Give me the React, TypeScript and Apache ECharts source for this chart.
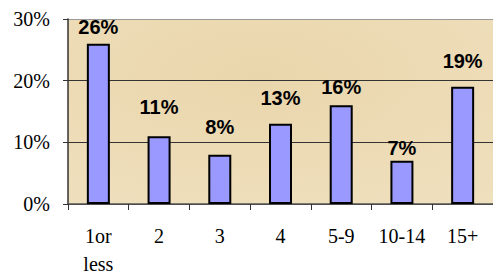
import React, { useEffect, useRef } from "react";
import * as echarts from "echarts";

const categories = ["1or\nless", "2", "3", "4", "5-9", "10-14", "15+"];
const values = [26, 11, 8, 13, 16, 7, 19];
const yTicks = [0, 10, 20, 30];
const labelGaps = [7, 19, 18, 16, 8, 3, 16];

export default function App() {
  const ref = useRef<HTMLDivElement>(null);
  useEffect(() => {
    if (!ref.current) return;
    const chart = echarts.init(ref.current, null, { renderer: "svg" });
    chart.setOption({
      animation: false,
      backgroundColor: "#ffffff",
      grid: {
        left: 68,
        top: 19,
        width: 429,
        height: 187,
        show: true,
        backgroundColor: {
          type: "radial",
          x: 0.45,
          y: 0.3,
          r: 0.9,
          colorStops: [
            { offset: 0, color: "#EAD6AC" },
            { offset: 1, color: "#EFE0BE" },
          ],
        },
        borderWidth: 0,
      },
      xAxis: {
        type: "category",
        data: categories,
        boundaryGap: true,
        axisLine: { show: true, lineStyle: { color: "#555555", width: 1.5 } },
        axisTick: { show: true, length: 6, lineStyle: { color: "#333333" } },
        axisLabel: {
          color: "#000000",
          fontFamily: "Liberation Serif",
          fontSize: 20,
          lineHeight: 28,
          margin: 18,
          interval: 0,
        },
      },
      yAxis: {
        type: "value",
        min: yTicks[0],
        max: yTicks[yTicks.length - 1],
        interval: 10,
        axisLine: { show: true, lineStyle: { color: "#333333", width: 1.5 } },
        axisTick: { show: true, length: 5, lineStyle: { color: "#333333" } },
        axisLabel: {
          color: "#000000",
          fontFamily: "Liberation Serif",
          fontSize: 20,
          margin: 18,
          formatter: "{value}%",
        },
        splitLine: {
          show: true,
          lineStyle: { color: ["#333333", "#333333", "#333333", "#999999"] },
        },
      },
      series: [
        {
          type: "bar",
          data: values.map((v, i) => ({
            value: v,
            label: { distance: labelGaps[i] },
          })),
          barWidth: 23,
          itemStyle: { color: "#9999FF", borderColor: "#000000", borderWidth: 2 },
          label: {
            show: true,
            position: "top",
            formatter: "{c}%",
            color: "#000000",
            fontFamily: "Liberation Sans",
            fontWeight: "bold",
            fontSize: 20,
          },
        },
      ],
    });
    return () => chart.dispose();
  }, []);
  return <div ref={ref} style={{ width: 493, height: 278, position: "absolute", left: 0, top: 0 }} />;
}
